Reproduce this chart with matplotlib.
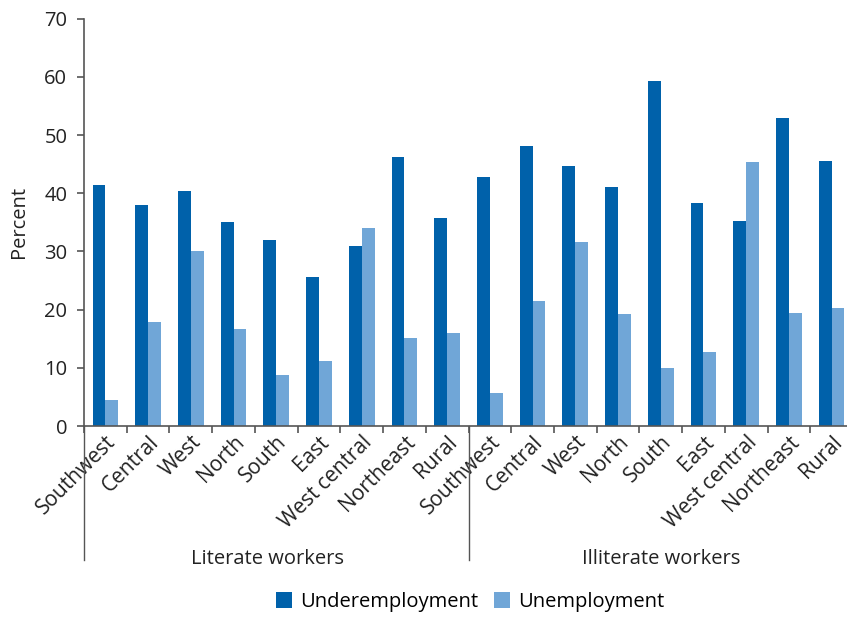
import matplotlib
matplotlib.use("Agg")
import matplotlib.pyplot as plt
import matplotlib.transforms as mtransforms
import numpy as np

plt.rcParams['font.family'] = ['Open Sans', 'DejaVu Sans']

regions = ["Southwest", "Central", "West", "North", "South", "East",
           "West central", "Northeast", "Rural"]
groups = ["Literate workers", "Illiterate workers"]

# values (percent)
under_literate = [41.4, 37.9, 40.4, 35.0, 31.9, 25.6, 31.0, 46.2, 35.7]
unemp_literate = [4.4, 17.8, 30.0, 16.6, 8.8, 11.2, 34.1, 15.1, 15.9]
under_illiterate = [42.8, 48.1, 44.7, 41.1, 59.3, 38.3, 35.2, 52.9, 45.5]
unemp_illiterate = [5.6, 21.4, 31.6, 19.3, 10.0, 12.7, 45.3, 19.4, 20.2]

dark = "#0061aa"
light = "#70a6d7"
axis_col = "#555555"
txt = "#222222"
fs = 14.5

under = under_literate + under_illiterate
unemp = unemp_literate + unemp_illiterate
labels = regions + regions
x = np.arange(len(labels))
w = 0.3

fig = plt.figure(figsize=(8.47, 6.18), dpi=100)
ax = fig.add_axes([84 / 847, (618 - 426) / 618, (853 - 84) / 847, (426 - 18.7) / 618])

ax.bar(x - w / 2, under, width=w, color=dark, label="Underemployment")
ax.bar(x + w / 2, unemp, width=w, color=light, label="Unemployment")

ax.set_xlim(-0.5, len(labels) - 0.5)
ax.set_ylim(0, 70)
ax.set_yticks(range(0, 71, 10))
ax.set_ylabel("Percent", fontsize=fs, color=txt, labelpad=11)

for s in ["top", "right"]:
    ax.spines[s].set_visible(False)
for s in ["left", "bottom"]:
    ax.spines[s].set_color(axis_col)
    ax.spines[s].set_linewidth(1.2)

ax.tick_params(axis="y", labelsize=fs, colors=axis_col, labelcolor=txt,
               length=5, width=1.2, pad=7)
ax.set_xticks(x)
ax.set_xticklabels(labels, rotation=45, ha="right", va="top",
                   rotation_mode="anchor", fontsize=fs + 0.5, color=txt)
ax.tick_params(axis="x", which="major", length=0, pad=4)
ax.set_xticks(np.arange(-0.5, len(labels), 1), minor=True)
ax.tick_params(axis="x", which="minor", length=5, width=1.2, colors=axis_col)

# group separators and labels
trans = mtransforms.blended_transform_factory(ax.transData, ax.transAxes)
for bx in [-0.5, len(regions) - 0.5]:
    ax.plot([bx, bx], [0, -0.329], transform=trans, color=axis_col,
            lw=1.0, clip_on=False)
for cx, g in zip([3.8, 13.0], groups):
    ax.text(cx, -0.327, g, transform=trans, ha="center", va="center",
            fontsize=fs, color=txt)

fig.legend(loc="center", bbox_to_anchor=(470 / 847, 1 - 602 / 618), ncol=2,
           frameon=False, fontsize=fs, handlelength=0.8, handleheight=0.8,
           handletextpad=0.4, columnspacing=0.8)

fig.savefig("out.png", dpi=100)
